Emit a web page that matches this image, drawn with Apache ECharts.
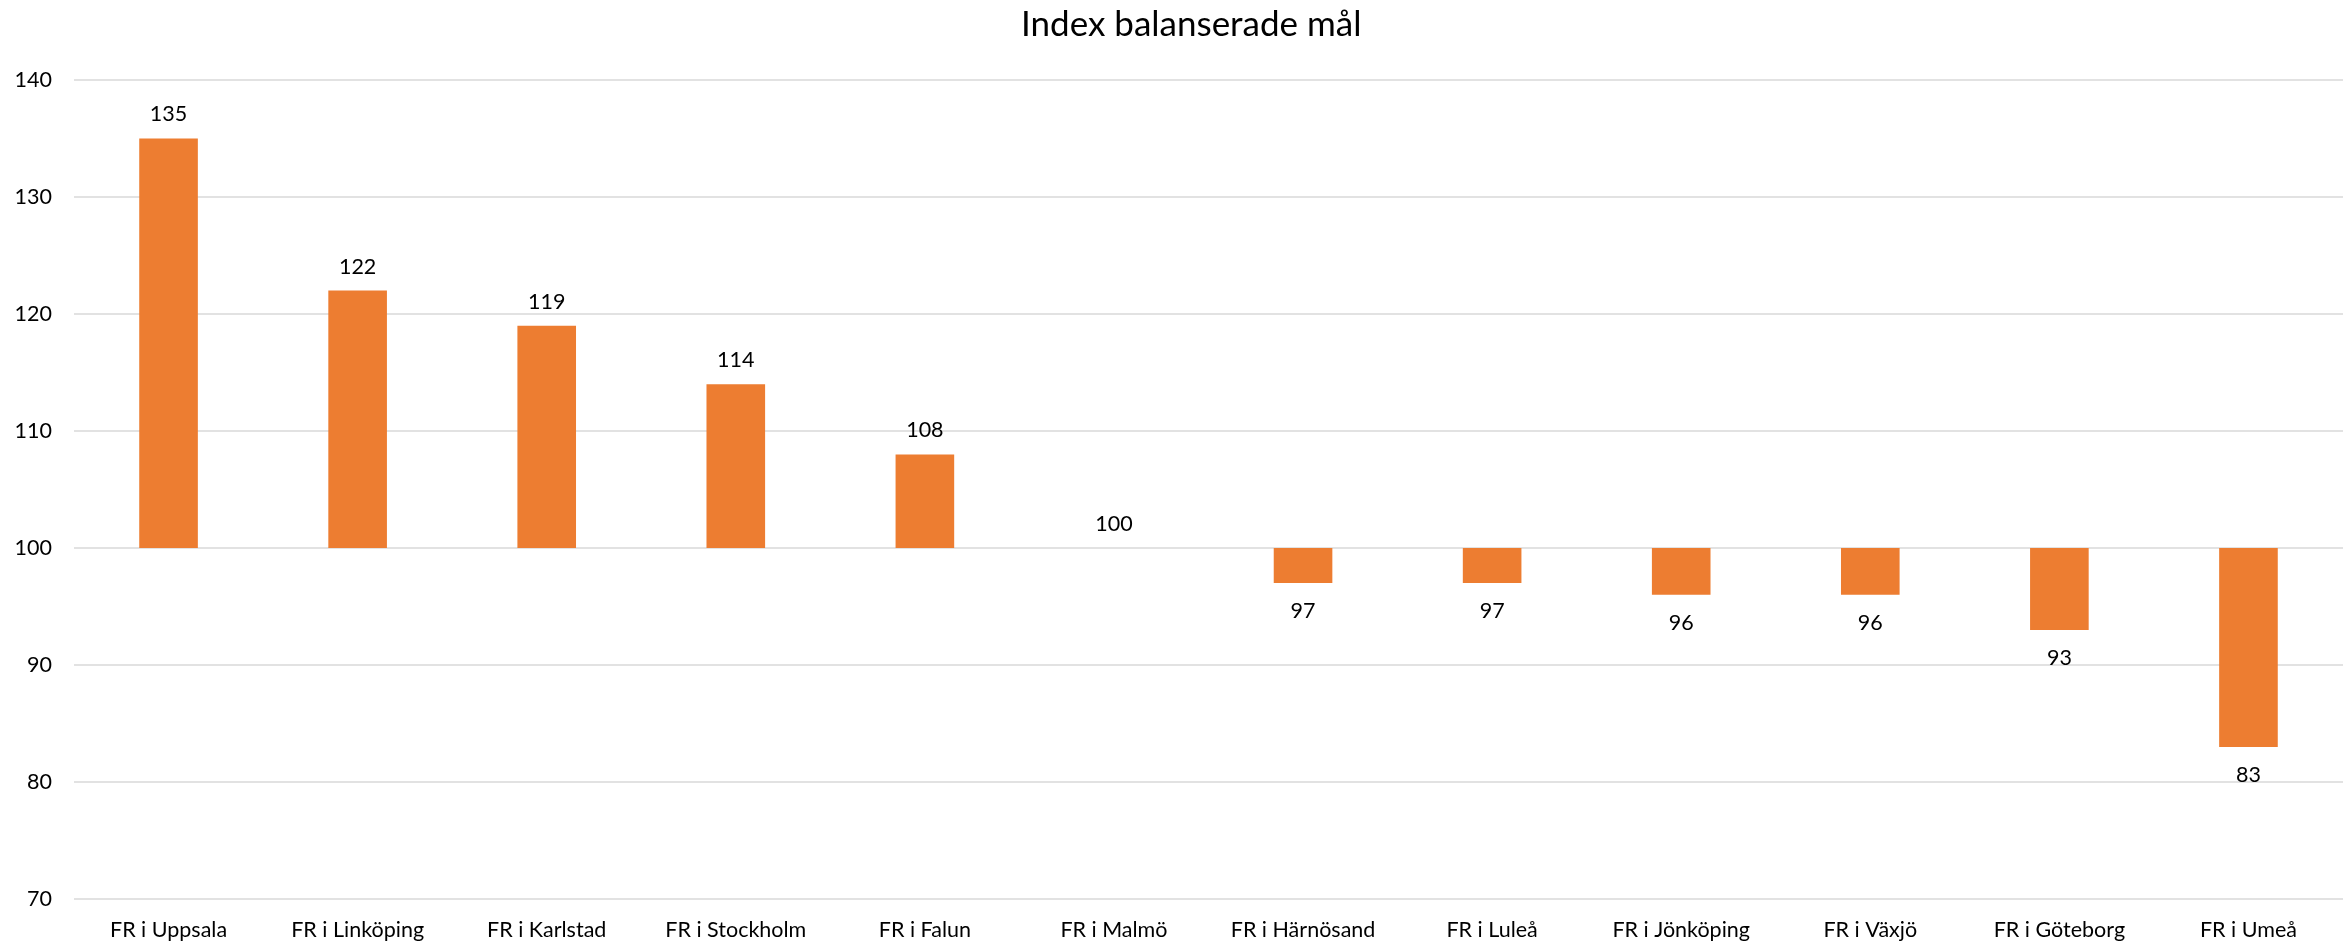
<!DOCTYPE html>
<html><head><meta charset="utf-8">
<script src="https://cdn.jsdelivr.net/npm/echarts@6/dist/echarts.min.js"></script>
<style>html,body{margin:0;padding:0;background:#fff}#c{width:2351px;height:943px}</style>
</head><body><div id="c"></div>
<script>
const categories = ["FR i Uppsala","FR i Linköping","FR i Karlstad","FR i Stockholm","FR i Falun","FR i Malmö","FR i Härnösand","FR i Luleå","FR i Jönköping","FR i Växjö","FR i Göteborg","FR i Umeå"];
const values = [135,122,119,114,108,100,97,97,96,96,93,83];
const baseline = 100;
const yTicks = {min:70, max:140, interval:10};

const FONT = 'Lato';
const baseData = values.map(v => Math.min(v, baseline));
const deltaData = values.map(v => ({
  value: Math.abs(v - baseline),
  label: { position: v >= baseline ? 'top' : 'bottom', distance: v >= baseline ? 13 : 17 }
}));

const chart = echarts.init(document.getElementById('c'));
chart.setOption({
  animation: false,
  title: { text: 'Index balanserade mål', left: 1016, top: 2,
    textStyle: { fontFamily: FONT, fontSize: 35, fontWeight: 'normal', color: '#000' } },
  grid: { left: 74, right: 8, top: 80, bottom: 44, containLabel: false },
  xAxis: { type: 'category', data: categories,
    axisLine: { show: false }, axisTick: { show: false },
    axisLabel: { fontFamily: FONT, fontSize: 21.5, color: '#000', margin: 20, interval: 0 } },
  yAxis: { type: 'value', min: yTicks.min, max: yTicks.max, interval: yTicks.interval,
    axisLine: { show: false }, axisTick: { show: false },
    axisLabel: { fontFamily: FONT, fontSize: 21.5, color: '#000', margin: 22 },
    splitLine: { lineStyle: { color: '#d9d9d9', width: 1.5 } } },
  series: [
    { type: 'bar', stack: 'a', data: baseData, barWidth: '31%',
      itemStyle: { color: 'transparent' }, silent: true },
    { type: 'bar', stack: 'a', data: deltaData, barWidth: '31%',
      itemStyle: { color: '#ED7D31' },
      label: { show: true, fontFamily: FONT, fontSize: 21.5, color: '#000',
        formatter: p => values[p.dataIndex] } }
  ]
});
</script></body></html>
